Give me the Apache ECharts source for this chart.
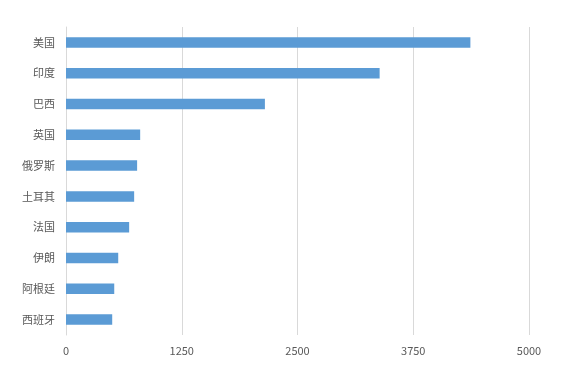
<!DOCTYPE html>
<html><head><meta charset="utf-8">
<script src="https://cdn.jsdelivr.net/npm/echarts@6/dist/echarts.min.js"></script>
<style>html,body{margin:0;padding:0;background:#fff}#c{width:578px;height:369px}</style>
</head><body><div id="c"></div>
<script>
const categories = ['美国','印度','巴西','英国','俄罗斯','土耳其','法国','伊朗','阿根廷','西班牙'];
const values = [4367, 3387, 2148, 801, 768, 736, 682, 564, 521, 499];
const xTicks = [0, 1250, 2500, 3750, 5000];

const chart = echarts.init(document.getElementById('c'));
chart.setOption({
  animation: false,
  backgroundColor: '#fff',
  textStyle: { fontFamily: '"Noto Sans CJK SC", sans-serif' },
  grid: { left: 66, right: 49, top: 27, bottom: 34, containLabel: false },
  xAxis: {
    type: 'value', min: xTicks[0], max: xTicks[xTicks.length-1], interval: 1250,
    axisLine: { show: false }, axisTick: { show: false },
    splitLine: { lineStyle: { color: '#d9d9d9', width: 1 } },
    axisLabel: { color: '#595959', fontSize: 11, margin: 10, formatter: v => String(v) }
  },
  yAxis: {
    type: 'category', data: categories, inverse: true,
    axisLine: { show: true, lineStyle: { color: '#d9d9d9' } }, axisTick: { show: false },
    axisLabel: { color: '#595959', fontSize: 11, margin: 11 }
  },
  series: [{
    type: 'bar', data: values, barWidth: '34%',
    itemStyle: { color: '#5B9BD5' }
  }]
});
</script></body></html>
